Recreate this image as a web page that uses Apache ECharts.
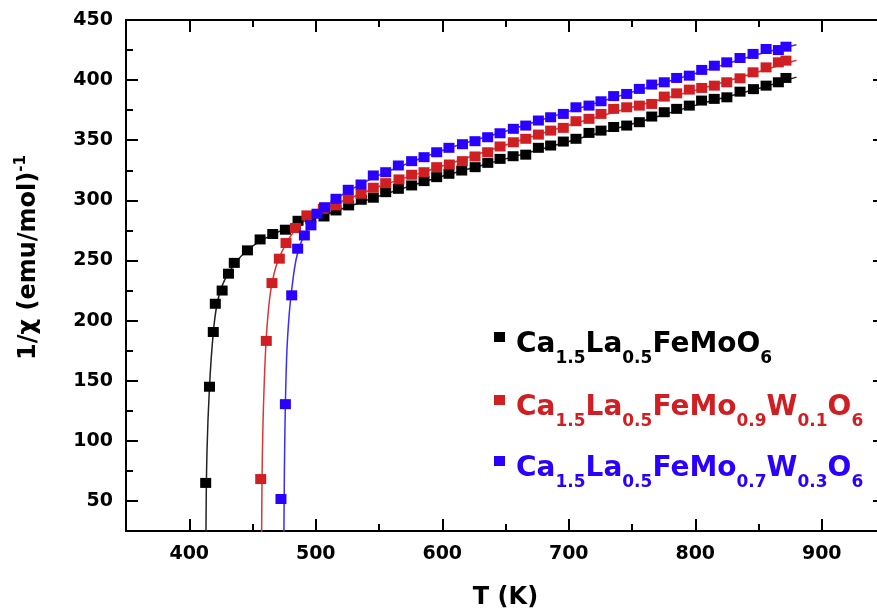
<!DOCTYPE html>
<html><head><meta charset="utf-8">
<script src="https://cdn.jsdelivr.net/npm/echarts@6/dist/echarts.min.js"></script>
<style>html,body{margin:0;padding:0;background:#fff;overflow:hidden}#wrap{width:877px;height:616px;overflow:hidden;position:relative}#c{width:886px;height:616px;position:absolute;left:0;top:0}</style>
</head><body><div id="wrap"><div id="c"></div></div>
<script>
// ---- data ----
const xMajorTicks = [400, 500, 600, 700, 800, 900];
const xMinorTicks = [450, 550, 650, 750, 850];
const yMajorTicks = [50, 100, 150, 200, 250, 300, 350, 400, 450];
const yMinorTicks = [75, 125, 175, 225, 275, 325, 375, 425];

const seriesNames = ['Ca1.5La0.5FeMoO6', 'Ca1.5La0.5FeMo0.9W0.1O6', 'Ca1.5La0.5FeMo0.7W0.3O6'];

const blackPts = [[413,65],[416,145],[419,190.5],[420.6,214],[426,225],[431,239],[435.6,248],[446,258.4],[456,267.5],[466,272],[476,275.6],[486,283],[496,285],[506.5,286.6],[516,291.6],[526,295.8],[536,300.5],[545.5,302.2],[555.3,306.8],[565.3,309.6],[575.8,312.4],[585.6,316],[595.6,319.3],[605.3,322.1],[615.4,324.8],[626,327.6],[636,331.2],[645.7,334.5],[656,336.7],[666,338],[676,343.7],[685.7,345.6],[695.7,348.9],[705.7,351.2],[716,356.1],[725.5,358],[735.5,361],[745.8,362.2],[755.8,365],[765.6,369.7],[775.5,373.3],[785.3,376.1],[795.3,378.8],[805,383],[815,384.4],[825,385.7],[835.4,390.4],[846,392.5],[856,395.4],[865.7,398.2],[871.7,401.8]];
const redPts = [[456.5,68.2],[460.9,183.1],[465.4,231.2],[471.2,251.5],[476.5,264.5],[484,277],[493,287.5],[506,293],[516,295.8],[525.7,301.3],[535.8,305.5],[545.5,310.5],[555.3,314.3],[565.8,317.4],[575.8,321.3],[585.6,323.4],[595.6,327.6],[605.6,329.8],[615.9,332.6],[625.9,336.5],[635.9,340],[645.7,344.8],[656.2,348.3],[666,351.2],[676,354.7],[685.7,358],[695.7,360.3],[705.7,365.8],[716,367.8],[725.5,371.9],[735.5,376.1],[745.8,377.4],[755.8,378.8],[765.6,380.2],[775.5,386.3],[785.3,389],[795.3,392.1],[805.1,393.5],[815.1,395.4],[824.9,398.2],[835.4,401.5],[845.7,406.5],[856,410.6],[865.7,414.8],[871.7,416.2]];
const bluePts = [[472.5,51.6],[476,130.5],[481,221],[485.7,259.8],[491,270.8],[496.2,279.2],[501,288.9],[507,294.3],[516,301.3],[525.7,308.8],[535.8,313.2],[545.5,320.7],[555.3,323.4],[565.3,329],[575.8,332.6],[585.6,335.9],[595.6,340],[605.3,343.7],[616,346.7],[625.9,349.2],[635.9,352.5],[645.7,355.8],[656.2,359.5],[666,362.2],[676,366.4],[685.7,369.1],[695.7,371.9],[705.7,377.4],[716,378.8],[725.5,382.4],[735.5,386.7],[745.8,388.5],[755.8,392.7],[765.6,396.3],[775.5,398.2],[785.3,401.8],[795.3,403.7],[805.1,408.5],[815.1,412],[824.9,414.8],[835.4,418.4],[845.7,421.8],[856,425.9],[865.7,425],[871.7,427.8]];

// fit curves
const blackFit = [[413.2,20],[414,90],[416,145],[419,190],[422,214],[426,229],[431,239.5],[438,250],[446,258.5],[456,266],[466,271.5],[476,276.5],[488,282],[500,285.5],[525,294.5],[550,303.5],[600,320],[650,334.5],[700,349],[750,363.5],[800,379],[850,393],[880,402.5]];
const redFit = [[457.2,20],[458,100],[459.7,160],[461.5,195],[464,222],[467,239],[471,252],[476,263],[482,273],[490,282],[500,289.5],[512,295.5],[530,303],[550,311.5],[600,328.5],[650,346],[700,362.5],[750,377.5],[800,391.5],[850,407],[880,416.5]];
const blueFit = [[474.8,20],[475.5,100],[477,170],[479,205],[481.5,230],[484.5,251],[488,264],[492,273],[497,282],[503,290],[510,296],[520,304],[535,313],[550,321],[600,341.5],[650,357.5],[700,374],[750,390],[800,405.5],[850,421.5],[880,429.5]];

const colors = ['#000000', '#d01f22', '#2a00ff'];
const lineColors = ['#222222', '#d8383a', '#3a2cff'];

// ---- chart ----
const FONT = 'DejaVu Sans';
const chart = echarts.init(document.getElementById('c'), null, {renderer: 'canvas'});

function xAx(pos, ticks, len, showLabel, name) {
  return {
    type: 'value', position: pos, min: 350, max: 950,
    name: name || '', nameLocation: 'middle', nameGap: 55,
    nameTextStyle: {fontFamily: FONT, fontWeight: 'bold', fontSize: 24, color: '#000'},
    axisLine: {show: true, onZero: false, lineStyle: {color: '#000', width: 2}},
    axisTick: {show: true, inside: true, length: len, customValues: ticks, lineStyle: {color: '#000', width: 2}},
    axisLabel: {show: showLabel, customValues: ticks, margin: 14, fontFamily: FONT, fontWeight: 'bold', fontSize: 19, color: '#000'},
    splitLine: {show: false}
  };
}
function yAx(pos, ticks, len, showLabel, withName) {
  const a = {
    type: 'value', position: pos, min: 25, max: 450,
    axisLine: {show: true, onZero: false, lineStyle: {color: '#000', width: 2}},
    axisTick: {show: true, inside: true, length: len, customValues: ticks, lineStyle: {color: '#000', width: 2}},
    axisLabel: {show: showLabel, customValues: ticks, margin: 13, fontFamily: FONT, fontWeight: 'bold', fontSize: 19, color: '#000'},
    splitLine: {show: false}
  };
  if (withName) {
    a.name = '{m|1/\u03c7 (emu/mol)}{s|-1}';
    a.nameLocation = 'middle';
    a.nameRotate = 90;
    a.nameGap = 82;
    a.nameTextStyle = {
      color: '#000', padding: [0, 0, 0, 36],
      rich: {
        m: {fontFamily: FONT, fontWeight: 'bold', fontSize: 24, lineHeight: 30, color: '#000'},
        s: {fontFamily: FONT, fontWeight: 'bold', fontSize: 15, lineHeight: 12, verticalAlign: 'top', color: '#000'}
      }
    };
  }
  return a;
}

function legendTitle(parts, color, top) {
  return {
    text: parts, left: 516, top: top, padding: 0,
    textStyle: {
      color: color,
      rich: {
        m: {fontFamily: FONT, fontWeight: 'bold', fontSize: 28, lineHeight: 28, verticalAlign: 'top', color: color},
        s: {fontFamily: FONT, fontWeight: 'bold', fontSize: 17, lineHeight: 55, color: color}
      }
    }
  };
}

const option = {
  animation: false,
  backgroundColor: '#fff',
  grid: {left: 126, top: 20, right: 1, bottom: 85, containLabel: false},
  xAxis: [
    xAx('bottom', xMajorTicks, 12, true, 'T (K)'),
    xAx('bottom', xMinorTicks, 7, false),
    xAx('top', xMajorTicks, 12, false),
    xAx('top', xMinorTicks, 7, false)
  ],
  yAxis: [
    yAx('left', yMajorTicks, 12, true, true),
    yAx('left', yMinorTicks, 7, false),
    yAx('right', yMajorTicks, 12, false),
    yAx('right', yMinorTicks, 7, false)
  ],
  title: [
    legendTitle('{m|Ca}{s|1.5}{m|La}{s|0.5}{m|FeMoO}{s|6}', colors[0], 331),
    legendTitle('{m|Ca}{s|1.5}{m|La}{s|0.5}{m|FeMo}{s|0.9}{m|W}{s|0.1}{m|O}{s|6}', colors[1], 394),
    legendTitle('{m|Ca}{s|1.5}{m|La}{s|0.5}{m|FeMo}{s|0.7}{m|W}{s|0.3}{m|O}{s|6}', colors[2], 455)
  ],
  graphic: [
    {type: 'rect', shape: {x: 494, y: 332, width: 11, height: 10}, style: {fill: colors[0]}},
    {type: 'rect', shape: {x: 494, y: 395, width: 11, height: 10}, style: {fill: colors[1]}},
    {type: 'rect', shape: {x: 494, y: 456, width: 11, height: 10}, style: {fill: colors[2]}}
  ],
  series: [
    {type: 'line', name: seriesNames[0] + ' fit', data: blackFit, showSymbol: false, smooth: 0.4, clip: true, lineStyle: {color: lineColors[0], width: 1.5}, z: 1},
    {type: 'line', name: seriesNames[1] + ' fit', data: redFit, showSymbol: false, smooth: 0.4, clip: true, lineStyle: {color: lineColors[1], width: 1.5}, z: 1},
    {type: 'line', name: seriesNames[2] + ' fit', data: blueFit, showSymbol: false, smooth: 0.4, clip: true, lineStyle: {color: lineColors[2], width: 1.5}, z: 1},
    {type: 'scatter', name: seriesNames[0], data: blackPts, symbol: 'rect', symbolSize: [11, 10], itemStyle: {color: colors[0], opacity: 1}, z: 2},
    {type: 'scatter', name: seriesNames[1], data: redPts, symbol: 'rect', symbolSize: [11, 10], itemStyle: {color: colors[1], opacity: 1}, z: 3},
    {type: 'scatter', name: seriesNames[2], data: bluePts, symbol: 'rect', symbolSize: [11, 10], itemStyle: {color: colors[2], opacity: 1}, z: 4}
  ]
};
chart.setOption(option);
</script></body></html>
